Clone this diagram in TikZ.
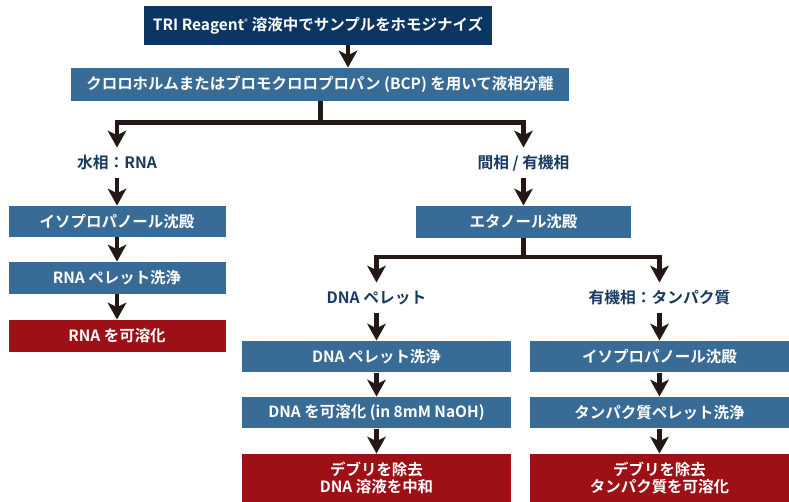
\documentclass[tikz,border=0pt]{standalone}
\usepackage{fontspec}
\setmainfont{Noto Sans CJK JP}[BoldFont={Noto Sans CJK JP Bold}]
\usetikzlibrary{arrows.meta}

\definecolor{navybox}{RGB}{12,53,98}
\definecolor{steelbox}{RGB}{56,107,149}
\definecolor{redbox}{RGB}{156,16,22}
\definecolor{labeltext}{RGB}{24,58,98}
\definecolor{arrowblack}{RGB}{35,24,21}

\tikzset{every picture/.style={line width=0.75pt}}
\tikzset{
  stepbox/.style={fill=steelbox, text=white, inner sep=0pt, align=center,
    font=\bfseries\fontsize{11.6}{13}\selectfont},
  topbox/.style={stepbox, fill=navybox},
  endbox/.style={stepbox, fill=redbox},
  phase/.style={text=labeltext, inner sep=0pt, minimum height=22.5pt,
    font=\bfseries\fontsize{11.8}{13}\selectfont},
  flow/.style={draw=arrowblack, line width=3.5pt,
    -{Stealth[length=12.75pt,width=14.25pt,inset=3.5pt,line width=0pt]}},
  bar/.style={draw=arrowblack, line width=3.75pt},
}

\begin{document}
\begin{tikzpicture}[x=0.75pt,y=0.75pt,yscale=-1,xscale=1]
\useasboundingbox (0,0) rectangle (789,502);

% Shape: top boxes
\node [topbox, minimum width=261pt, minimum height=29.25pt] (homog) at (318,25.5) {TRI Reagent\textsuperscript{\tiny ®} 溶液中でサンプルをホモジナイズ};
\node [stepbox, minimum width=373.5pt, minimum height=24.75pt] (phasesep) at (320,84.5) {クロロホルムまたはブロモクロロプロパン (BCP) を用いて液相分離};
\coordinate (c1) at (348,0);
\coordinate (split) at (320,122.5);

% Text Node
\node [phase] (aqueous) at (117,163) {水相：RNA};
% Text Node
\node [phase] (interphase) at (523.5,163) {間相 / 有機相};

% Shape: RNA column
\node [stepbox, minimum width=162.75pt, minimum height=23.25pt] (rnaiso) at (117,221.5) {イソプロパノール沈殿};
\node [stepbox, minimum width=162.75pt, minimum height=24pt] (rnawash) at (117,278) {RNA ペレット洗浄};
\node [endbox, minimum width=162.75pt, minimum height=24pt] (rnasol) at (117,336) {RNA を可溶化};

% Shape: ethanol box
\node [stepbox, minimum width=161.25pt, minimum height=24pt] (ethanol) at (523.5,222) {エタノール沈殿};
\coordinate (split2) at (523.5,257);

% Text Node
\node [phase] (dnapellet) at (376.5,298) {DNA ペレット};
% Text Node
\node [phase] (organic) at (659.5,298) {有機相：タンパク質};

% Shape: DNA column
\node [stepbox, minimum width=201.75pt, minimum height=23.25pt] (dnawash) at (376.5,356.5) {DNA ペレット洗浄};
\node [stepbox, minimum width=201.75pt, minimum height=23.25pt] (dnasol) at (376.5,412.5) {DNA を可溶化 (in 8mM NaOH)};
\node [endbox, minimum width=201.75pt, minimum height=36pt] (dnaend) at (376.5,478) {デブリを除去\\DNA 溶液を中和};

% Shape: protein column
\node [stepbox, minimum width=194.25pt, minimum height=23.25pt] (protiso) at (659.5,356.5) {イソプロパノール沈殿};
\node [stepbox, minimum width=194.25pt, minimum height=23.25pt] (protwash) at (659.5,412.5) {タンパク質ペレット洗浄};
\node [endbox, minimum width=194.25pt, minimum height=36pt] (protend) at (659.5,478) {デブリを除去\\タンパク質を可溶化};

% Straight Lines
\draw [flow] (homog.south -| c1) -- (phasesep.north -| c1);
\draw [bar] (phasesep) -- (split);
\draw [flow] (split) -| (aqueous);
\draw [flow] (split) -| (interphase);
\draw [flow] (aqueous) -- (rnaiso);
\draw [flow] (rnaiso) -- (rnawash);
\draw [flow] (rnawash) -- (rnasol);
\draw [flow] (interphase) -- (ethanol);
\draw [bar] (ethanol) -- (split2);
\draw [flow] (split2) -| (dnapellet);
\draw [flow] (split2) -| (organic);
\draw [flow] (dnapellet) -- (dnawash);
\draw [flow] (dnawash) -- (dnasol);
\draw [flow] (dnasol) -- (dnaend);
\draw [flow] (organic) -- (protiso);
\draw [flow] (protiso) -- (protwash);
\draw [flow] (protwash) -- (protend);

\end{tikzpicture}
\end{document}
